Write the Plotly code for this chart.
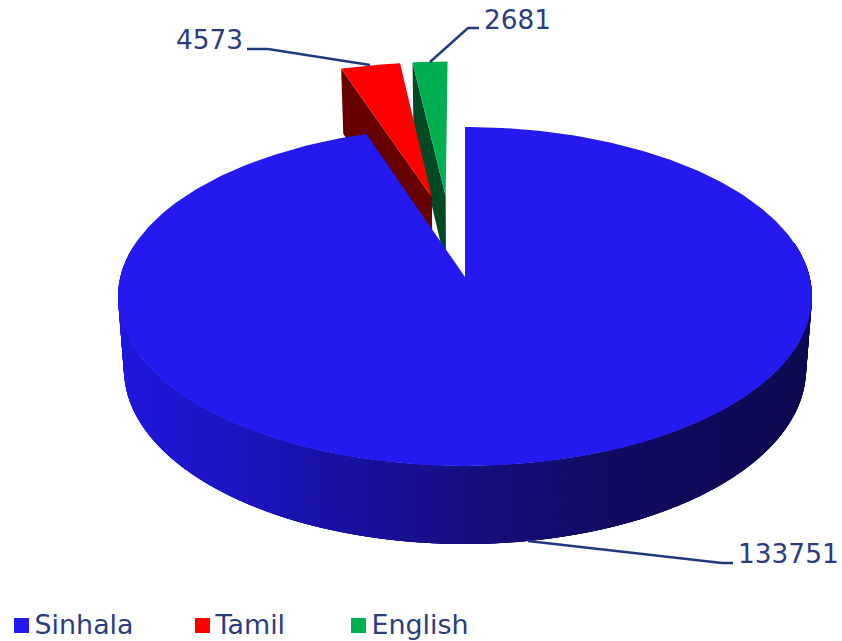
import numpy as np
import plotly.graph_objects as go

categories = ["Sinhala", "Tamil", "English"]
values = [133751, 4573, 2681]
top_colors = ["#241AF0", "#FF0000", "#00B050"]
wall_colors = [None, "#660000", "#024A26"]
TEXT = "#2B3C80"
LINE = "#203A7E"

# perspective disc model
CX, CY = 465.0, 277.0
A, B, K = 344.7, 167.3, 0.115
SHRINK, L0, KL = 0.983, 72.1, 0.0756
EXPLODE = 0.515
DIRECTION_TWEAK = [0.0, 1.3, -3.2]


def top(u, v):
    den = 1 + K * v
    return CX + A * u / den, CY - B * v / den


def bottom(u, v):
    x, y = top(u, v)
    return CX + (x - CX) * SHRINK, y + L0 / (1 + KL * v)


def unit(deg):
    r = np.radians(deg)
    return np.sin(r), np.cos(r)


def poly(pts, color, name):
    pts = list(pts) + [pts[0]]
    return go.Scatter(x=[p[0] for p in pts], y=[p[1] for p in pts], mode="lines", fill="toself",
                      fillcolor=color, line=dict(color=color, width=0), hoverinfo="skip",
                      showlegend=False, name=name)


STOPS_T = [0.0, 0.27, 0.5, 0.7, 1.0]
STOPS_C = np.array([[33, 24, 222], [26, 18, 172], [22, 15, 128], [17, 12, 98], [14, 10, 82]], float)


def shade(x):
    t = np.clip((x - 118) / 694, 0, 1)
    c = [np.interp(t, STOPS_T, STOPS_C[:, i]) for i in range(3)]
    return "rgb(%d,%d,%d)" % tuple(c)


fig = go.Figure()
total = sum(values)
spans = [v / total * 360 for v in values]
starts = np.cumsum([0] + spans[:-1])

# main slice side: gradient bands ordered by screen x, each overlapped by the next
edges = np.linspace(282, 78, 205)
for j in range(len(edges) - 1):
    seg = edges[j:min(j + 5, len(edges))]
    upper = [top(*unit(d)) for d in seg]
    lower = [bottom(*unit(d)) for d in seg[::-1]]
    fig.add_trace(poly(upper + lower, shade(upper[0][0]), "Sinhala side"))

# exploded slices, back to front
for i in (2, 1):
    s, w = starts[i], spans[i]
    ou, ov = unit(s + w / 2 + DIRECTION_TWEAK[i])
    ou, ov = ou * EXPLODE, ov * EXPLODE
    au, av = unit(s)
    cu, cv = au + ou, av + ov
    fig.add_trace(poly([top(ou, ov), top(cu, cv), bottom(cu, cv), bottom(ou, ov)],
                       wall_colors[i], categories[i] + " wall"))
    arc = [unit(d) for d in np.linspace(s, s + w, 20)]
    fig.add_trace(poly([top(ou, ov)] + [top(u + ou, v + ov) for u, v in arc], top_colors[i], categories[i]))

# main slice top
arc = [unit(d) for d in np.linspace(0, spans[0], 400)]
fig.add_trace(poly([top(0, 0)] + [top(u, v) for u, v in arc], top_colors[0], categories[0]))

# leaders and labels
leaders = [([528, 722, 733], [541, 563, 563]), ([370, 268, 247], [65, 49, 49]), ([430, 468, 479], [62, 28, 28])]
label_pos = [(738, 556), (176, 42), (484, 22)]
for (lx, ly), (tx, ty), v in zip(leaders, label_pos, values):
    fig.add_trace(go.Scatter(x=lx, y=ly, mode="lines", line=dict(color=LINE, width=2.4),
                             hoverinfo="skip", showlegend=False))
    fig.add_trace(go.Scatter(x=[tx], y=[ty], mode="text", text=[str(v)], textposition="middle right",
                             textfont=dict(family="DejaVu Sans", size=26.4, color=TEXT),
                             hoverinfo="skip", showlegend=False))

# legend row
legend_x = [21.5, 202.5, 358.5]
for name, color, x in zip(categories, top_colors, legend_x):
    fig.add_trace(go.Scatter(x=[x], y=[625.5], mode="markers", marker=dict(symbol="square", size=15, color=color),
                             hoverinfo="skip", showlegend=False))
    fig.add_trace(go.Scatter(x=[x + 13], y=[627], mode="text", text=[name], textposition="middle right",
                             textfont=dict(family="DejaVu Sans", size=26.9, color=TEXT),
                             hoverinfo="skip", showlegend=False))

fig.update_layout(width=842, height=641, margin=dict(l=0, r=0, t=0, b=0), paper_bgcolor="white",
                  plot_bgcolor="white", showlegend=False,
                  xaxis=dict(range=[0, 842], visible=False, fixedrange=True),
                  yaxis=dict(range=[641, 0], visible=False, fixedrange=True))
fig.write_html("out.html", config=dict(displayModeBar=False),
               post_script="document.body.style.margin='0';document.body.style.overflow='hidden';")
